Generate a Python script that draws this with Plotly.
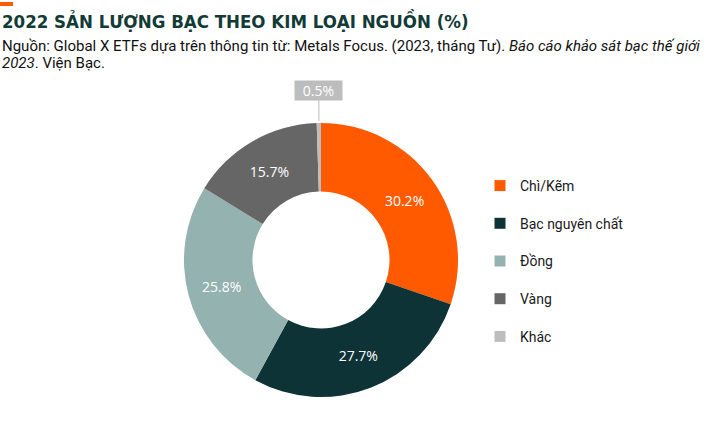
import math
import plotly.graph_objects as go

categories = ["Chì/Kẽm", "Bạc nguyên chất", "Đồng", "Vàng", "Khác"]
values = [30.2, 27.7, 25.8, 15.7, 0.5]
colors = ["#FF5A00", "#0D3337", "#94B2AF", "#666666", "#BDBDBD"]
value_labels = ["30.2%", "27.7%", "25.8%", "15.7%", "0.5%"]

W, H = 720, 438
cx, cy, R = 321, 260, 137  # pixels from top-left

dom_x = [(cx - R) / W, (cx + R) / W]
dom_y = [(H - cy - R) / H, (H - cy + R) / H]

fig = go.Figure()
fig.add_trace(go.Pie(
    labels=categories,
    values=values,
    marker=dict(colors=colors, line=dict(width=0)),
    hole=0.5,
    sort=False,
    direction="clockwise",
    rotation=0,
    text=[v if i < len(values) - 1 else "" for i, v in enumerate(value_labels)],
    textinfo="text",
    textposition="inside",
    insidetextorientation="horizontal",
    textfont=dict(family="Open Sans, Noto Sans, sans-serif", size=14, color="white"),
    domain=dict(x=dom_x, y=dom_y),
    showlegend=False,
))

# legend entries drawn from the same categories/colours
for i, (c, col) in enumerate(zip(categories, colors)):
    fig.add_trace(go.Scatter(
        x=[None], y=[None], mode="markers", name=c,
        marker=dict(symbol="square", size=11, color=col),
        legendgroup=f"g{i}", showlegend=True,
    ))

# outside label for the small last slice, positioned from data
total = sum(values)
mid = 360 * (1 - values[-1] / 2 / total)
theta = math.radians(mid)
px = cx + R * math.sin(theta)
py = cy - R * math.cos(theta)
fig.add_annotation(
    x=px / W, y=1 - (py - 2) / H, xref="paper", yref="paper",
    text=value_labels[-1], showarrow=True, arrowhead=0, arrowwidth=1,
    arrowcolor="#BDBDBD", ax=0, ay=-31, bgcolor="#BDBDBD",
    font=dict(family="Open Sans, Noto Sans, sans-serif", size=14, color="white"),
    width=43, height=15, borderpad=2,
)

fig.add_annotation(
    x=0, y=1 - 7 / H, xref="paper", yref="paper", xanchor="left", yanchor="top",
    text="<b>2022 SẢN LƯỢNG BẠC THEO KIM LOẠI NGUỒN (%)</b>", showarrow=False,
    font=dict(family="DejaVu Sans Condensed", size=18.5, color="#123B36"),
)
fig.add_annotation(
    x=0, y=1 - 35 / H, xref="paper", yref="paper", xanchor="left", yanchor="top",
    align="left",
    text="Nguồn: Global X ETFs dựa trên thông tin từ: Metals Focus. (2023, tháng Tư). "
         "<i>Báo cáo khảo sát bạc thế giới</i>",
    showarrow=False,
    font=dict(family="Roboto, sans-serif", size=15, color="#111111"),
)
fig.add_annotation(
    x=0, y=1 - 52 / H, xref="paper", yref="paper", xanchor="left", yanchor="top",
    align="left",
    text="<i>2023</i>. Viện Bạc.",
    showarrow=False,
    font=dict(family="Roboto, sans-serif", size=15, color="#111111"),
)

fig.add_shape(type="rect", xref="paper", yref="paper",
              x0=0, x1=13 / W, y0=1 - 6 / H, y1=1 - 2 / H,
              fillcolor="#FF5A00", line=dict(width=0))

fig.update_layout(
    width=W, height=H,
    margin=dict(l=0, r=0, t=0, b=0),
    paper_bgcolor="white", plot_bgcolor="white",
    xaxis=dict(visible=False), yaxis=dict(visible=False),
    legend=dict(x=480 / W, y=1 - 170 / H, xanchor="left", yanchor="top",
                tracegroupgap=16.5, font=dict(family="Roboto, sans-serif", size=14, color="#1A1A1A"),
                itemclick=False),
)

fig.write_html("out.html", post_script="document.body.style.margin='0';",
               config={"displayModeBar": False})
